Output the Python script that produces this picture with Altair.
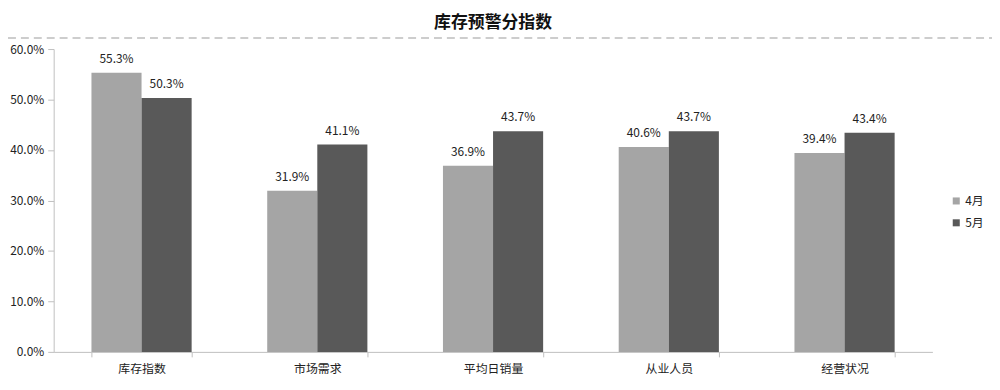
import altair as alt
import pandas as pd

categories = ["库存指数", "市场需求", "平均日销量", "从业人员", "经营状况"]
months = ["4月", "5月"]
april = [0.553, 0.319, 0.369, 0.406, 0.394]
may = [0.503, 0.411, 0.437, 0.437, 0.434]
colors = ["#A5A5A5", "#595959"]
y_ticks = [0, 0.1, 0.2, 0.3, 0.4, 0.5, 0.6]

rows = []
for c, a, m in zip(categories, april, may):
    rows.append({"cat": c, "month": months[0], "v": a})
    rows.append({"cat": c, "month": months[1], "v": m})
df = pd.DataFrame(rows)

FONT = "Noto Sans CJK SC"

x_enc = alt.X("cat:N", sort=categories, title=None,
              scale=alt.Scale(paddingInner=0.43, paddingOuter=0.215),
              axis=alt.Axis(labelAngle=0, tickBand="extent", domainColor="#bfbfbf",
                            tickColor="#bfbfbf", tickSize=5, labelPadding=7,
                            labelFontSize=12, labelColor="#222", labelFont=FONT))
xo_enc = alt.XOffset("month:N", sort=months, scale=alt.Scale(paddingInner=0, paddingOuter=0))
y_enc = alt.Y("v:Q", title=None,
              scale=alt.Scale(domain=[0, 0.6], nice=False),
              axis=alt.Axis(values=y_ticks, format=".1%", grid=False, domainColor="#bfbfbf",
                            tickColor="#bfbfbf", tickSize=6, labelPadding=4,
                            labelFontSize=12, labelColor="#222", labelFont=FONT))

base = alt.Chart(df)

bars = base.mark_bar().encode(
    x=x_enc, xOffset=xo_enc, y=y_enc,
    color=alt.Color("month:N", sort=months,
                    scale=alt.Scale(domain=months, range=colors),
                    legend=alt.Legend(title=None, orient="none", legendX=903, legendY=147,
                                      symbolType="square", symbolSize=50, labelFontSize=12,
                                      labelFont=FONT, labelColor="#222", rowPadding=10,
                                      symbolStrokeWidth=0, labelOffset=3)),
)

labels = base.mark_text(baseline="bottom", dy=-7, fontSize=12, font=FONT, color="#222").encode(
    x=alt.X("cat:N", sort=categories), xOffset=alt.XOffset("month:N", sort=months),
    y="v:Q", text=alt.Text("v:Q", format=".1%"),
)

line_df = pd.DataFrame({"k": [1]})
dash = alt.Chart(line_df).mark_rule(strokeDash=[8, 5], color="#bdbdbd", strokeWidth=1.5).encode(
    x=alt.value(-46), x2=alt.value(946), y=alt.value(-11)
)

chart = alt.layer(bars, labels, dash).properties(
    width=885, height=305,
    title=alt.TitleParams("库存预警分指数", fontSize=17, fontWeight="bold", font=FONT,
                          color="#111", anchor="middle", offset=5),
    autosize=alt.AutoSizeParams(type="none"),
    padding={"left": 46, "top": 40, "right": 60, "bottom": 30},
).configure_view(stroke=None)

chart.save("out.html", embed_options={"renderer": "svg", "actions": False})
